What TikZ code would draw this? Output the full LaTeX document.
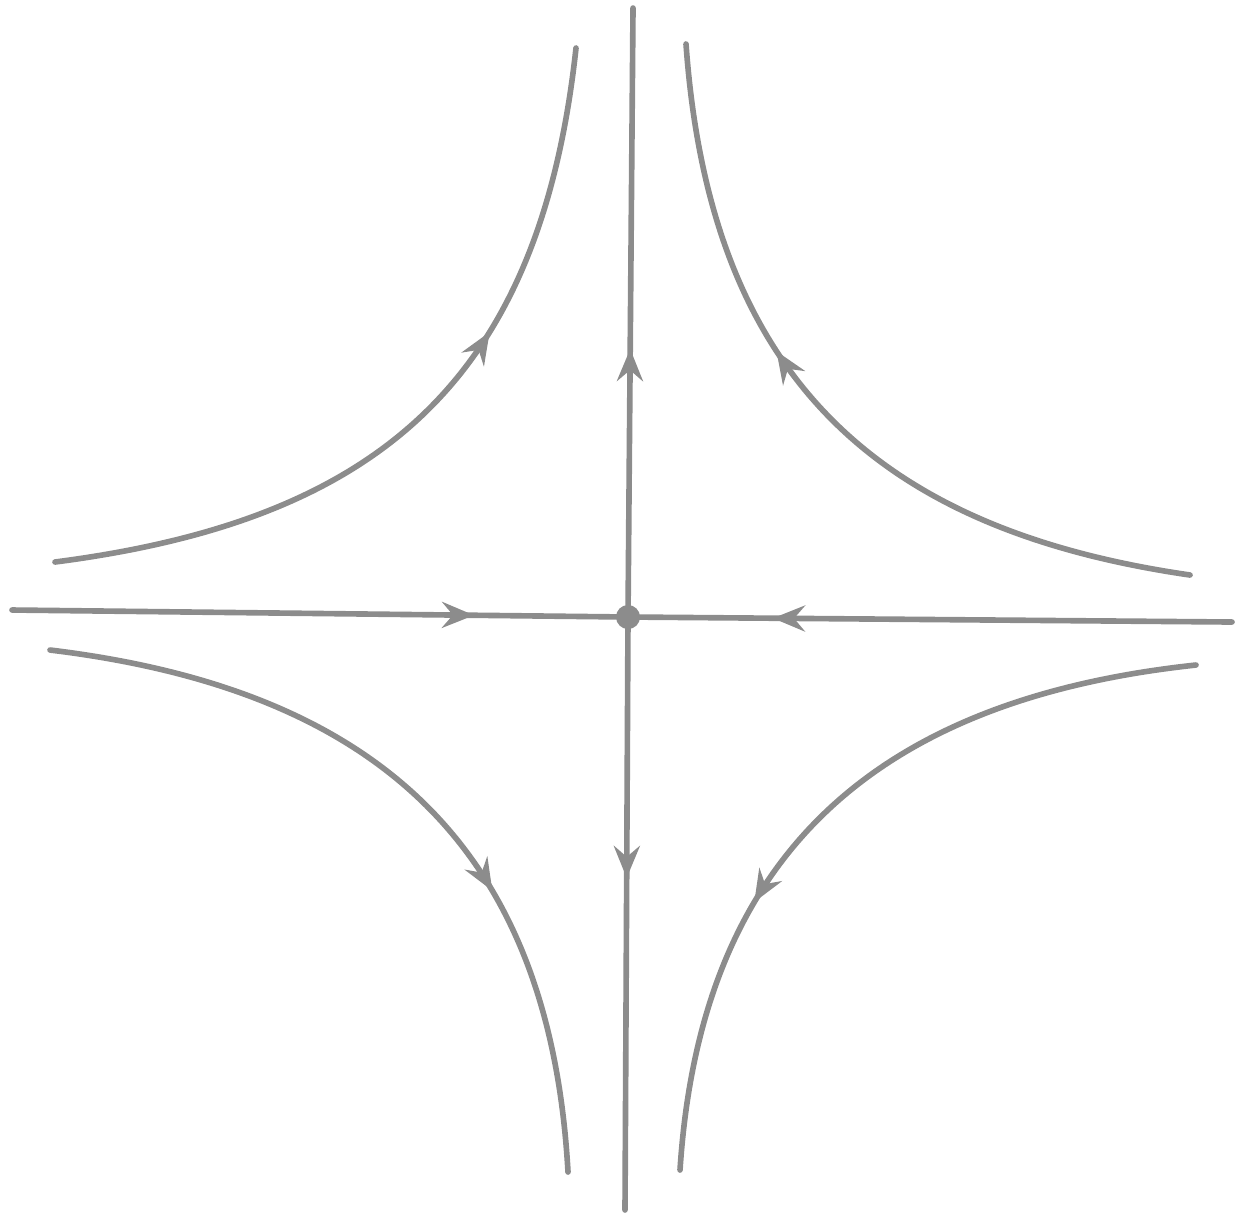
\documentclass[tikz,border=0pt]{standalone}
\usetikzlibrary{arrows.meta, decorations.markings}
\definecolor{cgrey}{HTML}{8C8C8C}
\tikzset{
  every picture/.style={line width=1.6pt},
  flow/.style={draw=cgrey, line cap=round, postaction={decorate},
    decoration={markings, mark=at position #1 with {\arrow{Stealth[length=3.2mm, width=2.6mm, inset=1.1mm]}}}},
  flow/.default=0.5,
  fixpt/.style={circle, fill=cgrey, inner sep=0pt, minimum size=2.4mm},
}

\begin{document}
\begin{tikzpicture}[x=0.01cm, y=-0.01cm]
  \useasboundingbox (0,0) rectangle (1243,1214);
  % saddle point and its four separatrix ends
  \node[fixpt] (o) at (628,617) {};
  \coordinate (w) at (12,610);
  \coordinate (e) at (1232,622);
  \coordinate (n) at (633,8);
  \coordinate (s) at (625,1210);
  % stable directions
  \draw[flow=0.75] (w) -- (o.center);
  \draw[flow=0.76] (e) -- (o.center);
  % unstable directions
  \draw[flow=0.44] (o.center) -- (n);
  \draw[flow=0.44] (o.center) -- (s);
  % hyperbolic orbits
  \coordinate (nw1) at (55,562);   \coordinate (nw2) at (576,48);
  \coordinate (ne1) at (1190,575); \coordinate (ne2) at (686,44);
  \coordinate (sw1) at (50,650);   \coordinate (sw2) at (568,1172);
  \coordinate (se1) at (1196,665); \coordinate (se2) at (680,1170);
  \draw[flow=0.63] (nw1) .. controls (380,520) and (540,380) .. (nw2);
  \draw[flow=0.6] (ne1) .. controls (880,530) and (710,380) .. (ne2);
  \draw[flow=0.64] (sw1) .. controls (380,690) and (550,850) .. (sw2);
  \draw[flow=0.65] (se1) .. controls (870,700) and (700,860) .. (se2);
\end{tikzpicture}
\end{document}
